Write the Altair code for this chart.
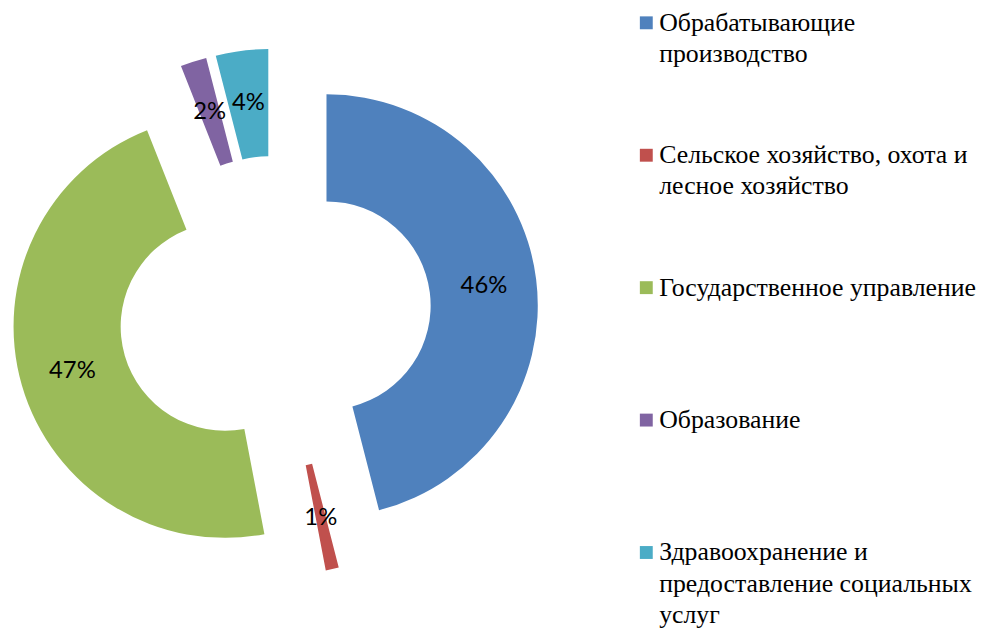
import altair as alt
import pandas as pd

# ---- data ----
categories = [
    "Обрабатывающие производство",
    "Сельское хозяйство, охота и лесное хозяйство",
    "Государственное управление",
    "Образование",
    "Здравоохранение и предоставление социальных услуг",
]
legend_lines = [
    ["Обрабатывающие", "производство"],
    ["Сельское хозяйство, охота и", "лесное хозяйство"],
    ["Государственное управление"],
    ["Образование"],
    ["Здравоохранение и", "предоставление социальных", "услуг"],
]
values = [46, 1, 47, 2, 4]
colors = ["#4F81BD", "#C0504D", "#9BBB59", "#8064A2", "#4BACC6"]

# ---- layout constants ----
CX, CY = 269, 304      # donut centre (plot px)
EXPLODE = 52.5         # radial explosion of each slice
R_OUT, R_IN = 213, 105
R_LABEL = 160
LEG_X, LEG_Y0 = 643.5, 12.4
LEG_ROW, LEG_LINE = 133.5, 31.5

df = pd.DataFrame({"category": categories, "value": values, "order": list(range(len(values)))})

legend_rows = []
for i, (cat, lines) in enumerate(zip(categories, legend_lines)):
    for j, txt in enumerate(lines):
        legend_rows.append({"category": cat, "row": i, "line": j, "text": txt})
legend_df = pd.DataFrame(legend_rows)

color_scale = alt.Scale(domain=categories, range=colors)

base = (
    alt.Chart(df)
    .transform_joinaggregate(total="sum(value)")
    .transform_window(cum="sum(value)", sort=[alt.SortField("order")])
    .transform_calculate(
        t0="2*PI*(datum.cum - datum.value)/datum.total",
        t1="2*PI*datum.cum/datum.total",
    )
    .transform_calculate(mid="(datum.t0 + datum.t1)/2")
    .transform_calculate(
        cx=f"{CX} + {EXPLODE}*sin(datum.mid)",
        cy=f"{CY} - {EXPLODE}*cos(datum.mid)",
        lx=f"{CX} + {EXPLODE + R_LABEL}*sin(datum.mid)",
        ly=f"{CY} - {EXPLODE + R_LABEL}*cos(datum.mid)",
        pct="format(datum.value/datum.total, '.0%')",
    )
)

arcs = base.mark_arc(outerRadius=R_OUT, innerRadius=R_IN).encode(
    x=alt.X("cx:Q", scale=None, axis=None),
    y=alt.Y("cy:Q", scale=None, axis=None),
    theta=alt.Theta("t0:Q", scale=None),
    theta2="t1:Q",
    color=alt.Color("category:N", scale=color_scale, legend=None),
)

labels = base.mark_text(font="Lato", fontSize=24, color="#000000").encode(
    x=alt.X("lx:Q", scale=None, axis=None),
    y=alt.Y("ly:Q", scale=None, axis=None),
    text="pct:N",
)

legend_base = alt.Chart(legend_df).transform_calculate(
    sy=f"{LEG_Y0} + {LEG_ROW}*datum.row",
    ty=f"{LEG_Y0} + 8 + {LEG_ROW}*datum.row + {LEG_LINE}*datum.line",
)

legend_symbols = legend_base.transform_filter("datum.line == 0").mark_square(size=169, opacity=1).encode(
    x=alt.value(LEG_X),
    y=alt.Y("sy:Q", scale=None, axis=None),
    color=alt.Color("category:N", scale=color_scale, legend=None),
)

legend_text = legend_base.mark_text(
    font="Liberation Serif", fontSize=26, color="#000000", align="left", baseline="alphabetic"
).encode(
    x=alt.value(LEG_X + 13),
    y=alt.Y("ty:Q", scale=None, axis=None),
    text="text:N",
)

chart = (
    alt.layer(arcs, labels, legend_symbols, legend_text)
    .properties(width=990, height=623, padding=0, autosize=alt.AutoSizeParams(type="none"))
    .configure_view(stroke=None)
)

chart.save("out.html", embed_options={"renderer": "svg", "actions": False})
